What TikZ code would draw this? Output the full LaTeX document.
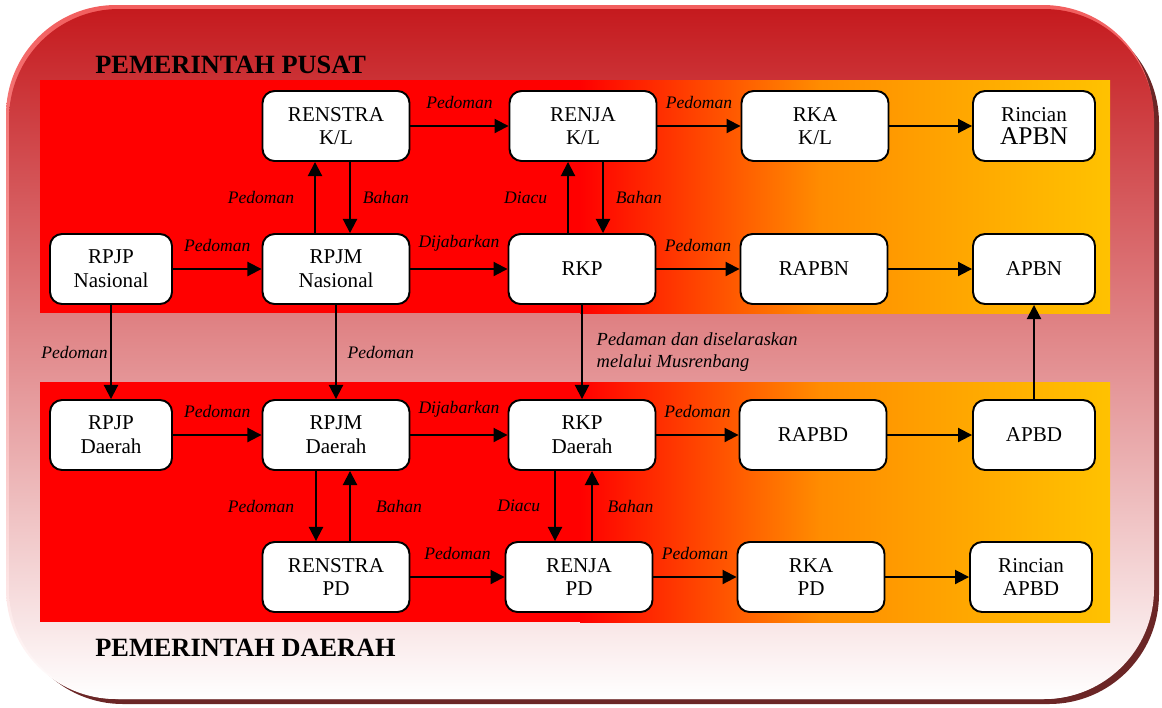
\documentclass[tikz,border=0pt]{standalone}
\usepackage{fontspec}
\setmainfont{Liberation Serif}
\usetikzlibrary{arrows.meta}
\definecolor{outertop}{HTML}{C51A1E}
\definecolor{outermid}{HTML}{DE9E9E}
\definecolor{glowtop}{HTML}{F25E5E}
\definecolor{shadowbrown}{HTML}{6B2626}
\definecolor{bandred}{HTML}{FF0000}
\definecolor{bandmid}{HTML}{FF8C00}
\definecolor{bandend}{HTML}{FFC200}
\tikzset{
  box/.style={draw, line width=1.1pt, fill=white, rounded corners=0.24cm, minimum width=2.94cm, minimum height=1.4cm, align=center, inner sep=1pt, font=\fontsize{12}{13.5}\selectfont},
  smallbox/.style={box, minimum width=2.44cm},
  arr/.style={line width=1.1pt, -{Triangle[length=8pt,width=8pt]}},
  lbl/.style={font=\fontsize{10}{12.5}\selectfont\itshape},
  title/.style={anchor=base west, inner sep=0pt, font=\bfseries\fontsize{15}{18}\selectfont}
}
\begin{document}
\begin{tikzpicture}[x=0.02cm, y=-0.02cm]
                \useasboundingbox (0,0) rectangle (1162,707);
                \fill[shadowbrown, rounded corners=2.2cm] (13,13) rectangle (1159,704);
                \shade[top color=glowtop, bottom color=white, rounded corners=2.2cm] (6,5) rectangle (1153,699);
                \shade[top color=outertop, middle color=outermid, bottom color=white, rounded corners=2.2cm] (9,9) rectangle (1154,699);

                \fill[bandred] (40,80) rectangle (582,313);
                \shade[left color=bandred, right color=bandmid] (580,80) rectangle (820,313);
                \shade[left color=bandmid, right color=bandend] (819,80) rectangle (1110,313);
                \fill[bandred] (40,382) rectangle (582,622);
                \shade[left color=bandred, right color=bandmid] (580,382) rectangle (820,622);
                \shade[left color=bandmid, right color=bandend] (819,382) rectangle (1110,622);

                \node[title] (pusat) at (95,73) {PEMERINTAH PUSAT};
                \node[title] (daerah) at (95,656) {PEMERINTAH DAERAH};

                \node[box] (renstrakl) at (336,126) {RENSTRA\\K/L};
                \node[box] (renjakl) at (583,126) {RENJA\\K/L};
                \node[box] (rkakl) at (815,126) {RKA\\K/L};
                \node[smallbox] (rincianapbn) at (1034,126) {Rincian\\{\fontsize{14.5}{15}\selectfont APBN}};
                \node[smallbox] (rpjpn) at (111,269) {RPJP\\Nasional};
                \node[box] (rpjmn) at (336,269) {RPJM\\Nasional};
                \node[box] (rkp) at (582,269) {RKP};
                \node[box] (rapbn) at (814,269) {RAPBN};
                \node[smallbox] (apbn) at (1034,269) {APBN};

                \node[smallbox] (rpjpd) at (111,435) {RPJP\\Daerah};
                \node[box] (rpjmd) at (336,435) {RPJM\\Daerah};
                \node[box] (rkpd) at (582,435) {RKP\\Daerah};
                \node[box] (rapbd) at (813,435) {RAPBD};
                \node[smallbox] (apbd) at (1034,435) {APBD};
                \node[box] (renstrapd) at (336,577) {RENSTRA\\PD};
                \node[box] (renjapd) at (579,577) {RENJA\\PD};
                \node[box] (rkapd) at (811,577) {RKA\\PD};
                \node[smallbox] (rincianapbd) at (1031,577) {Rincian\\APBD};

                \draw[arr] (renstrakl) -- node[lbl, above=6pt] {Pedoman} (renjakl);
                \draw[arr] (renjakl) -- node[lbl, above=6pt] {Pedoman} (rkakl);
                \draw[arr] (rkakl) -- (rincianapbn);
                \draw[arr] (315,0 |- rpjmn.north) -- node[lbl, left=8pt] {Pedoman} (315,0 |- renstrakl.south);
                \draw[arr] (350,0 |- renstrakl.south) -- node[lbl, right=3.5pt] {Bahan} (350,0 |- rpjmn.north);
                \draw[arr] (568,0 |- rkp.north) -- node[lbl, left=8pt] {Diacu} (568,0 |- renjakl.south);
                \draw[arr] (603,0 |- renjakl.south) -- node[lbl, right=3.5pt] {Bahan} (603,0 |- rkp.north);

                \draw[arr] (rpjpn) -- node[lbl, above=6pt] {Pedoman} (rpjmn);
                \draw[arr] (rpjmn) -- node[lbl, above=6pt] {Dijabarkan} (rkp);
                \draw[arr] (rkp) -- node[lbl, above=6pt] {Pedoman} (rapbn);
                \draw[arr] (rapbn) -- (apbn);

                \draw[arr] (rpjpn) -- node[lbl, left=-2pt] {Pedoman} (rpjpd);
                \draw[arr] (rpjmn) -- node[lbl, right=2.7pt] {Pedoman} (rpjmd);
                \draw[arr] (rkp) -- node[lbl, right=4.5pt, align=left, font=\fontsize{10.5}{12.5}\selectfont\itshape] {Pedaman dan diselaraskan\\melalui Musrenbang} (rkpd);
                \draw[arr] (apbd) -- (apbn);

                \draw[arr] (rpjpd) -- node[lbl, above=6pt] {Pedoman} (rpjmd);
                \draw[arr] (rpjmd) -- node[lbl, above=6pt] {Dijabarkan} (rkpd);
                \draw[arr] (rkpd) -- node[lbl, above=6pt] {Pedoman} (rapbd);
                \draw[arr] (rapbd) -- (apbd);

                \draw[arr] (316,0 |- rpjmd.south) -- node[lbl, left=8.5pt] {Pedoman} (316,0 |- renstrapd.north);
                \draw[arr] (350,0 |- renstrapd.north) -- node[lbl, right=11pt] {Bahan} (350,0 |- rpjmd.south);
                \draw[arr] (555,0 |- rkpd.south) -- node[lbl, left=4.5pt] {Diacu} (555,0 |- renjapd.north);
                \draw[arr] (592,0 |- renjapd.north) -- node[lbl, right=5pt] {Bahan} (592,0 |- rkpd.south);

                \draw[arr] (renstrapd) -- node[lbl, above=6pt] {Pedoman} (renjapd);
                \draw[arr] (renjapd) -- node[lbl, above=6pt] {Pedoman} (rkapd);
                \draw[arr] (rkapd) -- (rincianapbd);
            \end{tikzpicture}
\end{document}
